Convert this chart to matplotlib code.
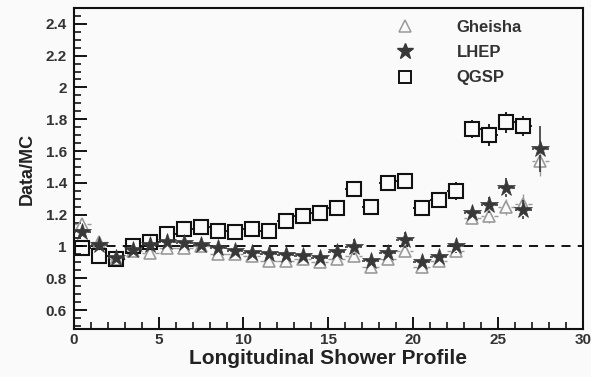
import matplotlib
matplotlib.use("Agg")
import matplotlib.pyplot as plt
from matplotlib.ticker import MultipleLocator
from matplotlib.lines import Line2D

plt.rcParams['font.family'] = ['Liberation Sans', 'DejaVu Sans']

x = [i + 0.5 for i in range(28)]

qgsp_x = x[:27]
qgsp = [0.99, 0.94, 0.92, 1.00, 1.03, 1.08, 1.11, 1.12, 1.10, 1.09,
        1.11, 1.10, 1.16, 1.19, 1.21, 1.24, 1.36, 1.25, 1.40, 1.41,
        1.24, 1.29, 1.35, 1.74, 1.70, 1.78, 1.76]
qgsp_err = [0.02, 0.02, 0.02, 0.02, 0.02, 0.02, 0.03, 0.03, 0.03, 0.03,
            0.03, 0.03, 0.045, 0.045, 0.045, 0.045, 0.045, 0.045, 0.045, 0.05,
            0.045, 0.05, 0.055, 0.055, 0.07, 0.066, 0.063]

lhep = [1.09, 1.01, 0.93, 0.98, 1.01, 1.03, 1.02, 1.01, 0.99, 0.97,
        0.96, 0.95, 0.945, 0.94, 0.925, 0.965, 0.995, 0.91, 0.96, 1.04,
        0.90, 0.935, 1.00, 1.21, 1.26, 1.37, 1.23, 1.61]
lhep_err = [0.02] * 16 + [0.05, 0.03, 0.03, 0.05, 0.03, 0.03, 0.04,
                          0.04, 0.05, 0.058, 0.06, 0.145]

gheisha = [1.14, 1.03, 0.92, 0.97, 0.96, 0.99, 0.99, 1.00, 0.95, 0.95,
           0.94, 0.91, 0.91, 0.92, 0.90, 0.92, 0.94, 0.87, 0.92, 0.97,
           0.87, 0.91, 0.97, 1.18, 1.19, 1.25, 1.27, 1.54]
gheisha_err = [0.02] * 22 + [0.03, 0.03, 0.04, 0.05, 0.06, 0.10]

BG = '#fafafa'
fig = plt.figure(figsize=(5.91, 3.77), dpi=100)
fig.patch.set_facecolor(BG)
ax = fig.add_axes([0.125, 0.127, 0.861, 0.852])
ax.set_facecolor(BG)
ax.set_xlim(0, 30)
ax.set_ylim(0.48, 2.5)

px_x = ax.bbox.width / 30.0
px_y = ax.bbox.height / (2.5 - 0.48)


def bars(xs, ys, yerr, xerr, half_px, color, lw, z):
    dx = half_px / px_x
    dy = half_px / px_y
    for xi, yi, ey in zip(xs, ys, yerr):
        if ey > dy:
            ax.vlines(xi, yi + dy, yi + ey, color=color, lw=lw, zorder=z)
            ax.vlines(xi, yi - ey, yi - dy, color=color, lw=lw, zorder=z)
        if xerr > dx:
            ax.hlines(yi, xi + dx, xi + xerr, color=color, lw=lw, zorder=z)
            ax.hlines(yi, xi - xerr, xi - dx, color=color, lw=lw, zorder=z)


ax.axhline(1.0, color='black', lw=1.3, ls=(0, (5, 4)), zorder=1)

G_COL, L_COL, Q_COL = '#9a9a9a', '#383838', '#111111'

bars(x, gheisha, gheisha_err, 0.5, 5.0, G_COL, 1.0, 2)
ax.plot(x, gheisha, ls='none', marker='^', ms=9, mfc='none', mec=G_COL,
        mew=1.2, zorder=2)

bars(qgsp_x, qgsp, qgsp_err, 0.5, 6.5, Q_COL, 1.3, 3)
ax.plot(qgsp_x, qgsp, ls='none', marker='s', ms=9.5, mfc='none', mec=Q_COL,
        mew=1.5, zorder=3)

bars(x, lhep, lhep_err, 0.5, 6.0, L_COL, 1.2, 4)
ax.plot(x, lhep, ls='none', marker='*', ms=13, mfc=L_COL, mec=L_COL,
        mew=0.5, zorder=4)

ax.xaxis.set_major_locator(MultipleLocator(5))
ax.xaxis.set_minor_locator(MultipleLocator(1))
ax.yaxis.set_minor_locator(MultipleLocator(0.05))
ax.set_yticks([0.6, 0.8, 1.0, 1.2, 1.4, 1.6, 1.8, 2.0, 2.2, 2.4])
ax.set_yticklabels(['0.6', '0.8', '1', '1.2', '1.4', '1.6', '1.8', '2', '2.2', '2.4'])

ax.tick_params(axis='both', which='major', direction='in', length=9, width=1.3,
               labelsize=11, labelcolor='#333333')
ax.tick_params(axis='x', which='major', pad=3)
ax.tick_params(axis='y', which='major', pad=5)
ax.tick_params(axis='both', which='minor', direction='in', length=5, width=1.1)
for lab in ax.get_xticklabels() + ax.get_yticklabels():
    lab.set_fontweight('bold')

for s in ax.spines.values():
    s.set_linewidth(1.5)
    s.set_color('#111111')

ax.set_xlabel('Longitudinal Shower Profile', fontsize=15, fontweight='bold',
              color='#222222', labelpad=1)
ax.set_ylabel('Data/MC', fontsize=13, fontweight='bold', color='#222222', labelpad=7)

handles = [
    Line2D([], [], ls='none', marker='^', ms=9, mfc='none', mec=G_COL, mew=1.1),
    Line2D([], [], ls='none', marker='*', ms=12, mfc=L_COL, mec=L_COL),
    Line2D([], [], ls='none', marker='s', ms=9, mfc='none', mec=Q_COL, mew=1.4),
]
leg = ax.legend(handles, ['Gheisha', 'LHEP', 'QGSP'], loc='upper left',
                bbox_to_anchor=(0.605, 1.01), frameon=False,
                handletextpad=2.6, labelspacing=0.62, handlelength=1.0,
                prop={'weight': 'bold', 'size': 12})
for t in leg.get_texts():
    t.set_color('#333333')

fig.savefig('out.png', dpi=100, facecolor=fig.get_facecolor())
